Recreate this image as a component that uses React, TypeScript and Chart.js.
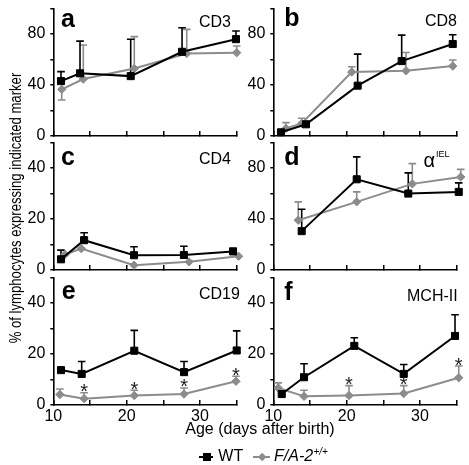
import React, { useEffect, useRef } from 'react';
import { Chart, registerables } from 'chart.js';

Chart.register(...registerables);

const FONT = '"Liberation Sans", Arial, Helvetica, sans-serif';
const BLACK = '#000000';
const GRAY = '#8c8c8c';

// x axis (days after birth)
const xTickStep = 5;
const xLabeledTicks = [10, 20, 30];

// ---- panel a: CD3 ----
const wtDaysA = [11.05, 13.64, 20.55, 27.55, 34.9];
const wtA = [43.1, 49.2, 47, 66.1, 76];
const wtTipA = [50.5, 74.5, 76, 85, 82.4];
const faDaysA = [11.15, 14.09, 21.04, 28.19, 35.0];
const faA = [36.6, 44.7, 53, 64.8, 65.4];
const faTipA = [28.2, 71.4, 78, 83.7, 70.6];

// ---- panel b: CD8 ----
const wtDaysB = [11.05, 14.46, 21.5, 27.5, 34.46];
const wtB = [2.9, 9.2, 39.5, 58.8, 72.2];
const wtTipB = [null, null, 64.3, 79.2, 79.5];
const faDaysB = [11.73, 13.87, 20.69, 28.09, 34.46];
const faB = [6, 9.9, 50.2, 51.2, 54.9];
const faTipB = [10.5, 13.9, 54.4, 65.6, 59.6];

// ---- panel c: CD4 ----
const wtDaysC = [11.05, 14.2, 21.0, 27.8, 34.5];
const wtC = [4.2, 11.7, 5.8, 5.9, 7.3];
const wtTipC = [7.8, 14.6, 9.1, 9.3, 8.4];
const faDaysC = [11.6, 13.8, 21.0, 28.5, 35.25];
const faC = [6.1, 8.4, 1.9, 3.2, 5.4];
const faTipC = [null, null, null, null, null];

// ---- panel d: alpha IEL ----
const wtDaysD = [13.87, 21.37, 28.4, 35.28];
const wtD = [30.5, 71.2, 60, 61.3];
const wtTipD = [47.7, 88.8, 76.2, 68.4];
const faDaysD = [13.4, 21.37, 28.95, 35.55];
const faD = [39.1, 53.5, 67.6, 73];
const faTipD = [53.5, 61.3, 83.5, 79];

// ---- panel e: CD19 ----
const wtDaysE = [11.05, 13.87, 21.04, 27.82, 35.0];
const wtE = [13.7, 12.2, 21.3, 12.9, 21.4];
const wtTipE = [null, 17.1, 29.3, 17.1, 29.1];
const faDaysE = [10.9, 14.2, 21.04, 27.82, 34.9];
const faE = [4.1, 2.5, 3.7, 4.3, 9.3];
const faTipE = [6.3, 4.8, 5.8, 6.7, 11.3];
const faSigE = [false, true, true, true, true];

// ---- panel f: MCH-II ----
const wtDaysF = [11.15, 14.19, 21.04, 27.78, 34.77];
const wtF = [4.3, 10.9, 23.2, 12.2, 27.1];
const wtTipF = [null, 16.2, 26.4, 15.9, 35.4];
const faDaysF = [10.68, 14.19, 20.32, 27.78, 35.28];
const faF = [6.7, 3.4, 3.7, 4.5, 10.7];
const faTipF = [8.7, 5.8, 7.6, 7.6, 15.3];
const faSigF = [false, false, true, true, true];

// y axis ranges
const yRangeLarge = { max: 100, step: 20, labeled: [0, 40, 80] };
const yRangeSmall = { max: 50, step: 10, labeled: [0, 20, 40] };

// layout (pixels)
const ROW_TOPS = [8.5, 142.5, 277.5];
const PLOT_H = 127.5;
const PAD_TOP = 14.5;
const X_AXIS_H = 30;
const CANVAS_H = PAD_TOP + PLOT_H + X_AXIS_H;
const COLS = [
  { left: 0, width: 250, axisX: 53.3, endX: 236.7 },
  { left: 228, width: 241, axisX: 273.3, endX: 456.7 },
];

type Tip = number | null;
type PanelDef = {
  id: string; col: number; row: number; showX: boolean;
  yr: { max: number; step: number; labeled: number[] };
  wtDays: number[]; wt: number[]; wtTip: Tip[];
  faDays: number[]; fa: number[]; faTip: Tip[]; faSig?: boolean[];
  letter: string; letterPos: [number, number];
  marker: string; markerPos: [number, number]; markerSize?: number;
  markerSup?: string; supPos?: [number, number];
};

const PANELS: PanelDef[] = [
  { id: 'a', col: 0, row: 0, showX: false, yr: yRangeLarge,
    wtDays: wtDaysA, wt: wtA, wtTip: wtTipA, faDays: faDaysA, fa: faA, faTip: faTipA,
    letter: 'a', letterPos: [61, 26.7], marker: 'CD3', markerPos: [199, 26.7] },
  { id: 'b', col: 1, row: 0, showX: false, yr: yRangeLarge,
    wtDays: wtDaysB, wt: wtB, wtTip: wtTipB, faDays: faDaysB, fa: faB, faTip: faTipB,
    letter: 'b', letterPos: [284.3, 26], marker: 'CD8', markerPos: [425, 26] },
  { id: 'c', col: 0, row: 1, showX: false, yr: yRangeSmall,
    wtDays: wtDaysC, wt: wtC, wtTip: wtTipC, faDays: faDaysC, fa: faC, faTip: faTipC,
    letter: 'c', letterPos: [61, 165], marker: 'CD4', markerPos: [199, 164.3] },
  { id: 'd', col: 1, row: 1, showX: false, yr: yRangeLarge,
    wtDays: wtDaysD, wt: wtD, wtTip: wtTipD, faDays: faDaysD, fa: faD, faTip: faTipD,
    letter: 'd', letterPos: [284.3, 165], marker: 'α', markerPos: [423.5, 166.7], markerSize: 20,
    markerSup: 'IEL', supPos: [436, 157.3] },
  { id: 'e', col: 0, row: 2, showX: true, yr: yRangeSmall,
    wtDays: wtDaysE, wt: wtE, wtTip: wtTipE, faDays: faDaysE, fa: faE, faTip: faTipE, faSig: faSigE,
    letter: 'e', letterPos: [61.7, 299.3], marker: 'CD19', markerPos: [199, 299.3] },
  { id: 'f', col: 1, row: 2, showX: true, yr: yRangeSmall,
    wtDays: wtDaysF, wt: wtF, wtTip: wtTipF, faDays: faDaysF, fa: faF, faTip: faTipF, faSig: faSigF,
    letter: 'f', letterPos: [284.3, 300], marker: 'MCH-II', markerPos: [407, 300.7] },
];

const errorBarPlugin = {
  id: 'errorBars',
  beforeDatasetsDraw(chart: any) {
    const { ctx } = chart;
    const xs = chart.scales.x;
    const ys = chart.scales.y;
    const sets = [...chart.data.datasets].reverse();
    sets.forEach((ds: any) => {
      const tips: Tip[] = ds.errTips;
      if (!tips) return;
      ctx.save();
      ctx.strokeStyle = ds.borderColor;
      ctx.lineWidth = 1.6;
      ds.data.forEach((pt: any, i: number) => {
        const tip = tips[i];
        if (tip == null) return;
        const px = xs.getPixelForValue(pt.x);
        const py = ys.getPixelForValue(pt.y);
        const pt2 = ys.getPixelForValue(tip);
        ctx.beginPath();
        ctx.moveTo(px, py);
        ctx.lineTo(px, pt2);
        ctx.moveTo(px - 3.8, pt2);
        ctx.lineTo(px + 3.8, pt2);
        ctx.stroke();
      });
      ctx.restore();
    });
  },
  afterDatasetsDraw(chart: any) {
    const { ctx } = chart;
    const xs = chart.scales.x;
    const ys = chart.scales.y;
    chart.data.datasets.forEach((ds: any) => {
      const sig: boolean[] = ds.sig;
      if (!sig) return;
      ctx.save();
      ctx.fillStyle = '#222';
      ctx.font = `20px ${FONT}`;
      ctx.textAlign = 'center';
      ctx.textBaseline = 'alphabetic';
      ds.data.forEach((pt: any, i: number) => {
        if (!sig[i]) return;
        const tip = ds.errTips?.[i] ?? pt.y;
        const px = xs.getPixelForValue(pt.x);
        const py = ys.getPixelForValue(tip);
        ctx.fillText('*', px, py + 5.5);
      });
      ctx.restore();
    });
  },
};

function Panel({ p }: { p: PanelDef }) {
  const ref = useRef<HTMLCanvasElement | null>(null);
  const col = COLS[p.col];
  const canvasTop = ROW_TOPS[p.row] - PAD_TOP;
  useEffect(() => {
    if (!ref.current) return;
    const textPlugin = {
      id: 'panelText',
      afterDraw(chart: any) {
        const ctx = chart.ctx;
        ctx.save();
        ctx.fillStyle = '#000';
        ctx.textBaseline = 'alphabetic';
        ctx.textAlign = 'left';
        ctx.font = `bold 25px ${FONT}`;
        ctx.fillText(p.letter, p.letterPos[0] - col.left, p.letterPos[1] - canvasTop);
        ctx.font = `${p.markerSize ?? 16}px ${FONT}`;
        ctx.fillText(p.marker, p.markerPos[0] - col.left, p.markerPos[1] - canvasTop);
        if (p.markerSup && p.supPos) {
          ctx.font = `9px ${FONT}`;
          ctx.fillText(p.markerSup, p.supPos[0] - col.left, p.supPos[1] - canvasTop);
        }
        ctx.restore();
      },
    };
    const yW = col.axisX - col.left;
    const padRight = col.left + col.width - col.endX;
    const chart = new Chart(ref.current, {
      type: 'line',
      data: {
        datasets: [
          {
            label: 'WT',
            data: p.wtDays.map((d, i) => ({ x: d, y: p.wt[i] })),
            borderColor: BLACK, backgroundColor: BLACK, borderWidth: 2,
            pointStyle: 'rect', pointRadius: 5, pointBorderWidth: 1,
            pointBackgroundColor: BLACK, pointBorderColor: BLACK,
            tension: 0, clip: false,
            errTips: p.wtTip,
          } as any,
          {
            label: 'F/A-2+/+',
            data: p.faDays.map((d, i) => ({ x: d, y: p.fa[i] })),
            borderColor: GRAY, backgroundColor: GRAY, borderWidth: 2,
            pointStyle: 'rectRot', pointRadius: 4.2, pointBorderWidth: 1,
            pointBackgroundColor: GRAY, pointBorderColor: GRAY,
            tension: 0, clip: false,
            errTips: p.faTip, sig: p.faSig,
          } as any,
        ],
      },
      options: {
        responsive: false,
        animation: false,
        events: [],
        layout: { padding: { top: PAD_TOP, right: padRight, left: 0, bottom: 0 } },
        plugins: { legend: { display: false }, tooltip: { enabled: false } },
        scales: {
          x: {
            type: 'linear', min: 10, max: 35,
            ticks: {
              stepSize: xTickStep, autoSkip: false, maxRotation: 0, padding: 7,
              color: '#000', font: { size: 16, family: FONT },
              callback: (v: any) => (p.showX && xLabeledTicks.includes(Number(v)) ? String(v) : ''),
            },
            grid: { drawOnChartArea: false, drawTicks: true, tickLength: -5, color: '#000', lineWidth: 1.5 },
            border: { color: '#000', width: 1.6 },
            afterFit: (s: any) => { s.height = X_AXIS_H; },
          },
          y: {
            min: 0, max: p.yr.max,
            ticks: {
              stepSize: p.yr.step, autoSkip: false, padding: 5,
              color: '#000', font: { size: 16, family: FONT },
              callback: (v: any) => (p.yr.labeled.includes(Number(v)) ? String(v) : ''),
            },
            grid: { drawOnChartArea: false, drawTicks: true, tickLength: 3, color: '#000', lineWidth: 1.5 },
            border: { color: '#000', width: 1.6 },
            afterFit: (s: any) => { s.width = yW; },
          },
        },
      } as any,
      plugins: [errorBarPlugin, textPlugin],
    });
    return () => chart.destroy();
  }, []);
  return (
    <canvas
      ref={ref}
      width={col.width}
      height={CANVAS_H}
      style={{ position: 'absolute', left: col.left, top: canvasTop, width: col.width, height: CANVAS_H }}
    />
  );
}

export default function App() {
  return (
    <div style={{ position: 'absolute', left: 0, top: 0, width: 469, height: 465, background: '#fff', overflow: 'hidden', fontFamily: FONT, color: '#000' }}>
      {PANELS.map((p) => <Panel key={p.id} p={p} />)}
      {/* y axis title */}
      <div style={{ position: 'absolute', left: 15.5 - 200, top: 208 - 8, width: 400, height: 16, lineHeight: '16px', fontSize: 16, textAlign: 'center', transform: 'rotate(-90deg) scaleX(0.82)', whiteSpace: 'nowrap' }}>
        % of lymphocytes expressing indicated marker
      </div>
      {/* x axis title */}
      <div style={{ position: 'absolute', left: 60, top: 420.5, width: 400, height: 16, lineHeight: '16px', fontSize: 16, textAlign: 'center', whiteSpace: 'nowrap' }}>
        Age (days after birth)
      </div>
      {/* legend */}
      <div style={{ position: 'absolute', left: 199, top: 455.7, width: 14, height: 2, background: BLACK }} />
      <div style={{ position: 'absolute', left: 202.5, top: 452.7, width: 8, height: 8, background: BLACK }} />
      <div style={{ position: 'absolute', left: 218.3, top: 448.2, height: 16, lineHeight: '16px', fontSize: 16, whiteSpace: 'nowrap' }}>WT</div>
      <div style={{ position: 'absolute', left: 253, top: 455.7, width: 17, height: 2, background: GRAY }} />
      <div style={{ position: 'absolute', left: 258.8, top: 453.5, width: 6.4, height: 6.4, background: GRAY, transform: 'rotate(45deg)' }} />
      <div style={{ position: 'absolute', left: 274, top: 448.2, height: 16, lineHeight: '16px', fontSize: 16, fontStyle: 'italic', whiteSpace: 'nowrap' }}>F/A-2</div>
      <div style={{ position: 'absolute', left: 313.5, top: 446.5, height: 10, lineHeight: '10px', fontSize: 10, fontStyle: 'italic', whiteSpace: 'nowrap' }}>+/+</div>
    </div>
  );
}
